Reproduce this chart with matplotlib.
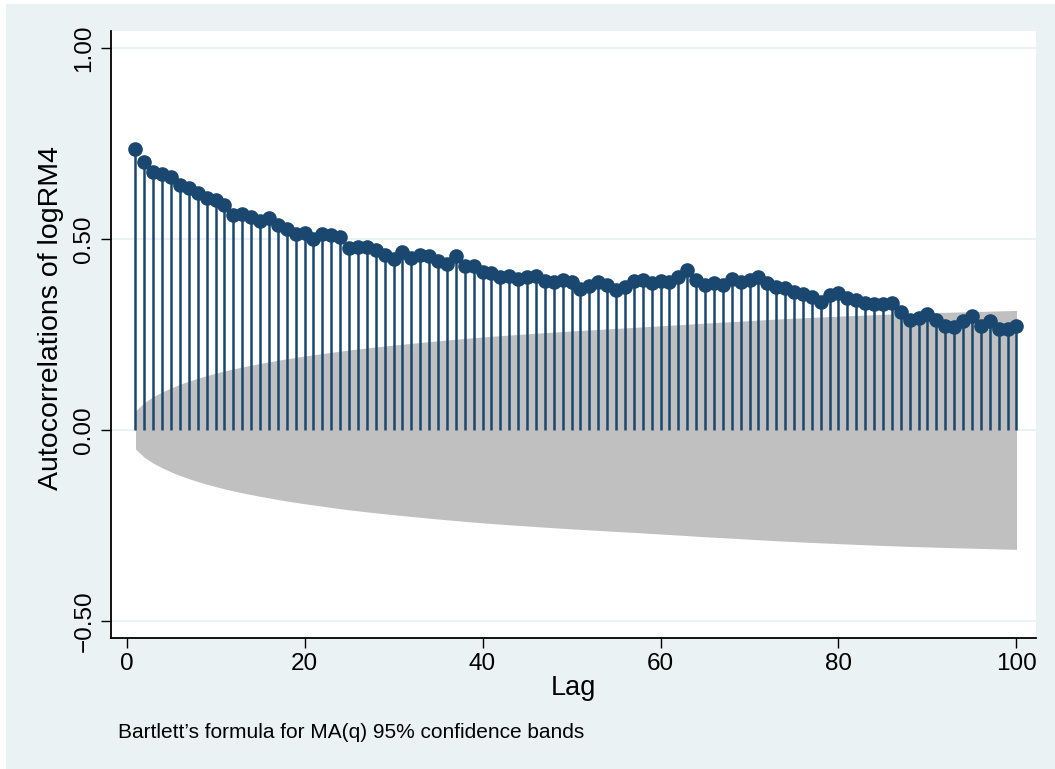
import numpy as np
import matplotlib
matplotlib.use("Agg")
import matplotlib.pyplot as plt

# autocorrelations of logRM4, lags 1..100
lags = np.arange(1, 101)
acf_vals = [
    0.736, 0.702, 0.676, 0.669, 0.661, 0.641, 0.633, 0.620, 0.607, 0.601,
    0.589, 0.563, 0.565, 0.558, 0.547, 0.554, 0.537, 0.526, 0.513, 0.515,
    0.500, 0.514, 0.509, 0.505, 0.476, 0.480, 0.479, 0.470, 0.458, 0.448,
    0.465, 0.449, 0.458, 0.456, 0.441, 0.434, 0.455, 0.430, 0.428, 0.413,
    0.410, 0.401, 0.404, 0.395, 0.399, 0.402, 0.390, 0.388, 0.392, 0.387,
    0.368, 0.377, 0.387, 0.380, 0.365, 0.373, 0.391, 0.393, 0.384, 0.391,
    0.388, 0.400, 0.419, 0.393, 0.378, 0.384, 0.380, 0.394, 0.387, 0.393,
    0.400, 0.384, 0.373, 0.371, 0.361, 0.356, 0.349, 0.336, 0.353, 0.358,
    0.345, 0.340, 0.332, 0.330, 0.330, 0.332, 0.309, 0.288, 0.292, 0.303,
    0.288, 0.272, 0.270, 0.284, 0.297, 0.272, 0.284, 0.264, 0.265, 0.272,
]
nobs = 1550

yticks = [-0.5, 0.0, 0.5, 1.0]
ytick_labels = ["\u22120.50", "0.00", "0.50", "1.00"]
xticks = [0, 20, 40, 60, 80, 100]

STATA_NAVY = "#1a476f"
BAND_GREY = "#c0c0c0"
REGION_BG = "#eaf2f3"

plt.rcParams["font.family"] = ["Liberation Sans", "DejaVu Sans"]

# Bartlett's formula for MA(q) 95% bands
r = np.array(acf_vals)
cum = np.concatenate([[0.0], np.cumsum(r ** 2)[:-1]])
se = 1.96 * np.sqrt((1 + 2 * cum) / nobs)

fig = plt.figure(figsize=(10.55, 7.69), dpi=100)
fig.patch.set_facecolor("white")
bg = fig.add_axes([6 / 1055, 0, 1 - 6 / 1055, 1 - 4 / 769])
bg.set_facecolor(REGION_BG)
bg.set_xticks([])
bg.set_yticks([])
for s in bg.spines.values():
    s.set_visible(False)

ax = fig.add_axes([0.1049, 0.1707, 0.9817 - 0.1049, 0.9601 - 0.1707])
ax.set_facecolor("white")
for y in yticks:
    ax.axhline(y, color=REGION_BG, lw=1.5, zorder=0)

ax.fill_between(lags, -se, se, color=BAND_GREY, lw=0, zorder=1)
ax.vlines(lags, 0, r, color=STATA_NAVY, lw=1.8, zorder=2)
ax.plot(lags, r, "o", color=STATA_NAVY, ms=9.5, mec=STATA_NAVY, zorder=3)

ax.set_xlim(-1.79, 102.16)
ax.set_ylim(-0.544, 1.045)
ax.set_xticks(xticks)
ax.set_yticks(yticks)
ax.set_yticklabels(ytick_labels, rotation=90, va="center")
ax.tick_params(axis="both", length=7, width=1, color="black",
               labelsize=17.5, pad=4)

for side in ["top", "right"]:
    ax.spines[side].set_visible(False)
for side in ["left", "bottom"]:
    ax.spines[side].set_linewidth(1.3)
    ax.spines[side].set_color("black")

ax.set_xlabel("Lag", fontsize=19.5, labelpad=0)
fig.text(51 / 1055, 1 - 318 / 769, "Autocorrelations of logRM4", fontsize=20.5,
         rotation=90, ha="center", va="center")

fig.text(118 / 1055, 1 - 732 / 769, "Bartlett\u2019s formula for MA(q) 95% confidence bands",
         fontsize=15, va="center", ha="left")

fig.savefig("out.png", dpi=100, facecolor=fig.get_facecolor())
